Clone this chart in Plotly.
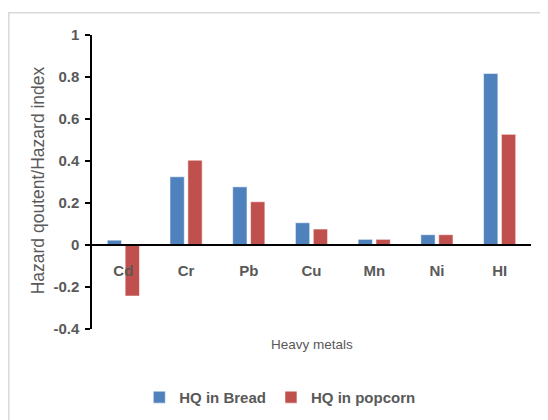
import plotly.graph_objects as go

categories = ["Cd", "Cr", "Pb", "Cu", "Mn", "Ni", "HI"]
hq_bread = [0.023, 0.325, 0.277, 0.106, 0.027, 0.049, 0.817]
hq_popcorn = [-0.243, 0.404, 0.206, 0.076, 0.027, 0.049, 0.527]
series_names = ["HQ in Bread", "HQ in popcorn"]
y_ticks = [-0.4, -0.2, 0, 0.2, 0.4, 0.6, 0.8, 1]
y_ticktext = ["-0.4", "-0.2", "0", "0.2", "0.4", "0.6", "0.8", "1"]

W, H = 548, 420
OFF = 8  # page body margin
ML, MT = 84, 27
pw, ph = 439.5, 294.5
MR = W - ML - pw
MB = H - MT - ph

GRAY = "#595959"
FONT = "Liberation Sans, Arial, sans-serif"

def px_x(x):
    return (x - OFF - ML) / pw

def px_y(y):
    return (MT + ph - (y - OFF)) / ph

fig = go.Figure()
fig.add_trace(go.Bar(x=categories, y=hq_bread, name=series_names[0],
                     marker=dict(color="#4F81BD", line=dict(color="rgba(255,255,255,0.55)", width=1))))
fig.add_trace(go.Bar(x=categories, y=hq_popcorn, name=series_names[1],
                     marker=dict(color="#C0504D", line=dict(color="rgba(255,255,255,0.55)", width=1))))

ymin, ymax = -0.4, 1.0
zero_pos = (0 - ymin) / (ymax - ymin)

fig.update_layout(
    width=W, height=H,
    margin=dict(l=ML, r=MR, t=MT, b=MB, autoexpand=False),
    paper_bgcolor="white", plot_bgcolor="white",
    barmode="group", bargap=0.43, bargroupgap=0.2,
    font=dict(family=FONT, color=GRAY),
    showlegend=True,
    legend=dict(orientation="h", x=px_x(280), xanchor="center", y=px_y(398), yanchor="middle",
                font=dict(size=15, color=GRAY, weight="bold"), itemwidth=30,
                traceorder="normal", bgcolor="rgba(0,0,0,0)"),
    xaxis=dict(anchor="free", position=zero_pos, showline=True, linecolor="black", linewidth=1.5,
               ticks="", showgrid=False, zeroline=False,
               tickfont=dict(size=15, color=GRAY, weight="bold"), ticklabelstandoff=12),
    yaxis=dict(range=[ymin, ymax], tickvals=y_ticks, ticktext=y_ticktext,
               showline=True, linecolor="black", linewidth=1.5, ticks="outside", ticklen=5,
               tickcolor="black", tickwidth=1.5, showgrid=False, zeroline=False,
               ticklabelstandoff=3,
               tickfont=dict(size=15, color=GRAY, weight="bold")),
    shapes=[dict(type="rect", xref="paper", yref="paper",
                 x0=px_x(8.7), x1=px_x(620), y0=px_y(500), y1=px_y(12.7),
                 line=dict(color="#D9D9D9", width=1.5), fillcolor="rgba(0,0,0,0)", layer="below")],
    annotations=[
        dict(text="Heavy metals", xref="paper", yref="paper", x=px_x(312.5), y=px_y(345),
             showarrow=False, xanchor="center", yanchor="middle",
             font=dict(size=13.5, color=GRAY)),
        dict(text="Hazard qoutent/Hazard index", xref="paper", yref="paper", x=px_x(37.5), y=px_y(181),
             showarrow=False, xanchor="center", yanchor="middle", textangle=-90,
             font=dict(size=17.5, color=GRAY, weight=500)),
    ],
)

fig.write_html("out.html")
